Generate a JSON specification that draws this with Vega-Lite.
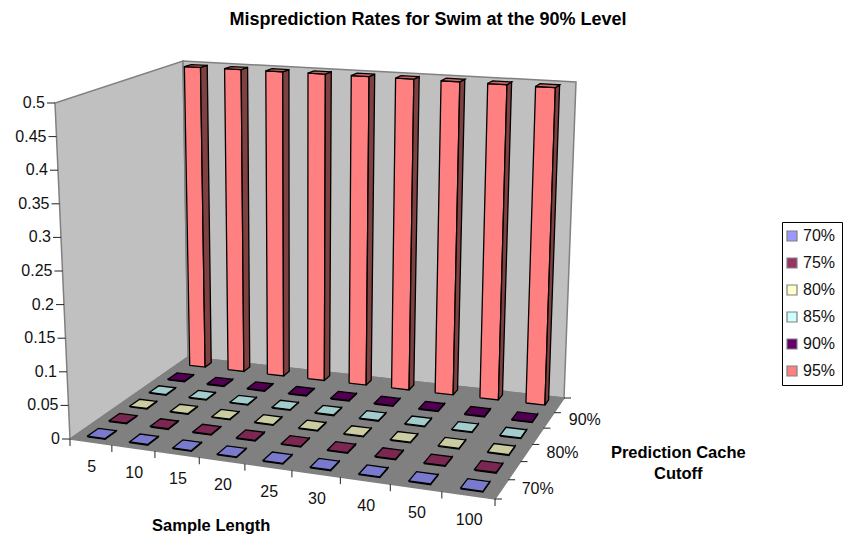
{"$schema":"https://vega.github.io/schema/vega-lite/v6.json","width":844,"height":538,"padding":0,"autosize":{"type":"fit","contains":"padding"},"background":"white",
"title":{"text":"Misprediction Rates for Swim at the 90% Level","font":"Liberation Sans","fontSize":18,"fontWeight":"bold","color":"black","anchor":"middle","offset":-29,"dx":6},
"config":{"view":{"stroke":null},"text":{"font":"Liberation Sans","color":"#111"}},
"datasets":{"main":[
{"sample":5,"cutoff":"70%","value":0.001},{"sample":10,"cutoff":"70%","value":0.001},{"sample":15,"cutoff":"70%","value":0.001},{"sample":20,"cutoff":"70%","value":0.001},{"sample":25,"cutoff":"70%","value":0.001},{"sample":30,"cutoff":"70%","value":0.001},{"sample":40,"cutoff":"70%","value":0.001},{"sample":50,"cutoff":"70%","value":0.001},{"sample":100,"cutoff":"70%","value":0.001},
{"sample":5,"cutoff":"75%","value":0.001},{"sample":10,"cutoff":"75%","value":0.001},{"sample":15,"cutoff":"75%","value":0.001},{"sample":20,"cutoff":"75%","value":0.001},{"sample":25,"cutoff":"75%","value":0.001},{"sample":30,"cutoff":"75%","value":0.001},{"sample":40,"cutoff":"75%","value":0.001},{"sample":50,"cutoff":"75%","value":0.001},{"sample":100,"cutoff":"75%","value":0.001},
{"sample":5,"cutoff":"80%","value":0.001},{"sample":10,"cutoff":"80%","value":0.001},{"sample":15,"cutoff":"80%","value":0.001},{"sample":20,"cutoff":"80%","value":0.001},{"sample":25,"cutoff":"80%","value":0.001},{"sample":30,"cutoff":"80%","value":0.001},{"sample":40,"cutoff":"80%","value":0.001},{"sample":50,"cutoff":"80%","value":0.001},{"sample":100,"cutoff":"80%","value":0.001},
{"sample":5,"cutoff":"85%","value":0.001},{"sample":10,"cutoff":"85%","value":0.001},{"sample":15,"cutoff":"85%","value":0.001},{"sample":20,"cutoff":"85%","value":0.001},{"sample":25,"cutoff":"85%","value":0.001},{"sample":30,"cutoff":"85%","value":0.001},{"sample":40,"cutoff":"85%","value":0.001},{"sample":50,"cutoff":"85%","value":0.001},{"sample":100,"cutoff":"85%","value":0.001},
{"sample":5,"cutoff":"90%","value":0.001},{"sample":10,"cutoff":"90%","value":0.001},{"sample":15,"cutoff":"90%","value":0.001},{"sample":20,"cutoff":"90%","value":0.001},{"sample":25,"cutoff":"90%","value":0.001},{"sample":30,"cutoff":"90%","value":0.001},{"sample":40,"cutoff":"90%","value":0.001},{"sample":50,"cutoff":"90%","value":0.001},{"sample":100,"cutoff":"90%","value":0.001},
{"sample":5,"cutoff":"95%","value":0.497},{"sample":10,"cutoff":"95%","value":0.497},{"sample":15,"cutoff":"95%","value":0.497},{"sample":20,"cutoff":"95%","value":0.497},{"sample":25,"cutoff":"95%","value":0.497},{"sample":30,"cutoff":"95%","value":0.497},{"sample":40,"cutoff":"95%","value":0.497},{"sample":50,"cutoff":"95%","value":0.497},{"sample":100,"cutoff":"95%","value":0.497}
]},
"encoding":{"x":{"field":"px","type":"quantitative","scale":{"domain":[0,844],"nice":false,"zero":false},"axis":null},"y":{"field":"py","type":"quantitative","scale":{"domain":[538,0],"nice":false,"zero":false},"axis":null}},
"layer":[
{"data":{"values":[{"part":"left"},{"part":"back"},{"part":"floor"}]},
"transform":[
{"calculate":"datum.part=='left'?[0,0,0,0,0]:[0,1,1,0,0]","as":"u"},
{"calculate":"datum.part=='left'?[0,1,1,0,0]:datum.part=='back'?[1,1,1,1,1]:[0,0,1,1,0]","as":"v"},
{"calculate":"datum.part=='floor'?[0,0,0,0,0]:[0,0,1,1,0]","as":"t"},
{"calculate":"[0,1,2,3,4]","as":"ord"},
{"flatten":["u","v","t","ord"]},
{"calculate":"datum.part=='floor'?'#808080':'#C0C0C0'","as":"col"},
{"calculate":"1-0.12584*datum.u+0.15341*datum.v","as":"w"},
{"calculate":"(70+362.71*datum.u+146.84*datum.v)/datum.w+datum.t*(-15+17*datum.u+10*datum.v)","as":"px"},
{"calculate":"(439-2.79*datum.u-27.23*datum.v)/datum.w+datum.t*(-336-20*datum.u+40*datum.v)","as":"py"}],
"mark":{"type":"line","stroke":"#808080","strokeWidth":1.5},
"encoding":{"order":{"field":"ord"},"detail":{"field":"part"},"fill":{"field":"col","type":"nominal","scale":null}}},
{"data":{"values":[{"label":"0","level":0},{"label":"0.05","level":0.05},{"label":"0.1","level":0.1},{"label":"0.15","level":0.15},{"label":"0.2","level":0.2},{"label":"0.25","level":0.25},{"label":"0.3","level":0.3},{"label":"0.35","level":0.35},{"label":"0.4","level":0.4},{"label":"0.45","level":0.45},{"label":"0.5","level":0.5}]},
"transform":[{"calculate":"70-15*datum.level/0.5","as":"px"},{"calculate":"439-336*datum.level/0.5","as":"py"},{"calculate":"datum.px-8","as":"px2"}],
"layer":[{"mark":{"type":"rule","stroke":"#222","strokeWidth":1},"encoding":{"x2":{"field":"px2"}}},
{"mark":{"type":"text","align":"right","baseline":"middle","dx":-10,"fontSize":16},"encoding":{"text":{"field":"label"}}}]},
{"data":{"values":[{"tick":0},{"tick":1},{"tick":2},{"tick":3},{"tick":4},{"tick":5},{"tick":6},{"tick":7},{"tick":8},{"tick":9}]},
"transform":[{"calculate":"datum.tick/9","as":"u"},{"calculate":"1-0.12584*datum.u","as":"w"},{"calculate":"(70+362.71*datum.u)/datum.w","as":"px"},{"calculate":"(439-2.79*datum.u)/datum.w","as":"py"},{"calculate":"datum.py+7","as":"py2"}],
"mark":{"type":"rule","stroke":"#222","strokeWidth":1},"encoding":{"y2":{"field":"py2"}}},
{"data":{"values":[{"tick":0},{"tick":1},{"tick":2},{"tick":3},{"tick":4},{"tick":5},{"tick":6}]},
"transform":[{"calculate":"datum.tick/6","as":"v"},{"calculate":"1-0.12584+0.15341*datum.v","as":"w"},{"calculate":"(432.71+146.84*datum.v)/datum.w","as":"px"},{"calculate":"(436.21-27.23*datum.v)/datum.w","as":"py"},{"calculate":"datum.px+7","as":"px2"}],
"mark":{"type":"rule","stroke":"#222","strokeWidth":1},"encoding":{"x2":{"field":"px2"}}},
{"data":{"name":"main"},
"transform":[
{"calculate":"(indexof([5,10,15,20,25,30,40,50,100],datum.sample)+0.5)/9","as":"uc"},
{"calculate":"indexof(['70%','75%','80%','85%','90%','95%'],datum.cutoff)","as":"vi"},
{"calculate":"[-1,1,1,-1,-1,1,1,1,1,1,-1,1,1,-1,-1]","as":"su"},
{"calculate":"[-1,-1,-1,-1,-1,-1,1,1,-1,-1,-1,-1,1,1,-1]","as":"sv"},
{"calculate":"[0,0,1,1,0,0,0,1,1,0,1,1,1,1,1]","as":"st"},
{"calculate":"[1,1,1,1,1,0.5,0.5,0.5,0.5,0.5,0.8,0.8,0.8,0.8,0.8]","as":"shade"},
{"calculate":"[0,1,2,3,4,0,1,2,3,4,0,1,2,3,4]","as":"ord"},
{"flatten":["su","sv","st","shade","ord"]},
{"calculate":"[[153,153,255],[153,51,102],[255,255,204],[204,255,255],[102,0,102],[255,128,128]][datum.vi]","as":"rgb"},
{"calculate":"'rgb('+floor(datum.rgb[0]*datum.shade)+','+floor(datum.rgb[1]*datum.shade)+','+floor(datum.rgb[2]*datum.shade)+')'","as":"col"},
{"calculate":"datum.uc+datum.su*(datum.vi==5?0.0225:0.0235)+(datum.vi==5?0.002:0)","as":"u"},
{"calculate":"(datum.vi+0.5)/6+datum.sv*(datum.vi==5?0.03:0.042)+(datum.vi==5?0.015:0)","as":"v"},
{"calculate":"datum.st*datum.value/0.5","as":"t"},
{"calculate":"1-0.12584*datum.u+0.15341*datum.v","as":"w"},
{"calculate":"(70+362.71*datum.u+146.84*datum.v)/datum.w+datum.t*(-15+17*datum.u+10*datum.v)","as":"px"},
{"calculate":"(439-2.79*datum.u-27.23*datum.v)/datum.w+datum.t*(-336-20*datum.u+40*datum.v)","as":"py"}],
"mark":{"type":"line","stroke":"black","strokeWidth":1.3,"strokeJoin":"miter"},
"encoding":{"order":{"field":"ord"},"detail":[{"field":"sample"},{"field":"cutoff"},{"field":"shade"}],"fill":{"field":"col","type":"nominal","scale":null}}},
{"data":{"name":"main"},
"transform":[{"filter":"datum.cutoff=='70%'"},{"calculate":"(indexof([5,10,15,20,25,30,40,50,100],datum.sample)+0.5)/9","as":"u"},{"calculate":"1-0.12584*datum.u","as":"w"},{"calculate":"(70+362.71*datum.u)/datum.w","as":"px"},{"calculate":"(439-2.79*datum.u)/datum.w","as":"py"}],
"mark":{"type":"text","align":"center","baseline":"middle","dy":25,"dx":1,"fontSize":16},"encoding":{"text":{"field":"sample"}}},
{"data":{"name":"main"},
"transform":[{"filter":"datum.sample==5&&(datum.cutoff=='70%'||datum.cutoff=='80%'||datum.cutoff=='90%')"},{"calculate":"(indexof(['70%','75%','80%','85%','90%','95%'],datum.cutoff)+0.5)/6","as":"v"},{"calculate":"1-0.12584+0.15341*datum.v","as":"w"},{"calculate":"(432.71+146.84*datum.v)/datum.w","as":"px"},{"calculate":"(436.21-27.23*datum.v)/datum.w","as":"py"}],
"mark":{"type":"text","align":"left","baseline":"middle","dx":20,"fontSize":16},"encoding":{"text":{"field":"cutoff"}}},
{"data":{"values":[{"label":"Sample Length","u":0.5,"v":0,"off":0},{"label":"Prediction Cache\nCutoff","u":1,"v":0.5,"off":1}]},
"transform":[{"calculate":"1-0.12584*datum.u+0.15341*datum.v","as":"w"},{"calculate":"(70+362.71*datum.u+146.84*datum.v)/datum.w+(datum.off?146:-57)","as":"px"},{"calculate":"(439-2.79*datum.u-27.23*datum.v)/datum.w+(datum.off?9:59)","as":"py"}],
"mark":{"type":"text","align":"center","baseline":"middle","fontSize":16.5,"fontWeight":"bold","lineBreak":"\n","lineHeight":20.5,"color":"black"},"encoding":{"text":{"field":"label"}}},
{"data":{"name":"main"},
"transform":[{"calculate":"(indexof([5,10,15,20,25,30,40,50,100],datum.sample)+0.5)/9","as":"u"},{"calculate":"(indexof(['70%','75%','80%','85%','90%','95%'],datum.cutoff)+0.5)/6","as":"v"},{"calculate":"1-0.12584*datum.u+0.15341*datum.v","as":"w"},{"calculate":"(70+362.71*datum.u+146.84*datum.v)/datum.w","as":"px"},{"calculate":"(439-2.79*datum.u-27.23*datum.v)/datum.w","as":"py"}],
"mark":{"type":"square","size":0,"stroke":"black","strokeWidth":1.2,"filled":true},
"encoding":{"fill":{"field":"cutoff","type":"nominal","scale":{"domain":["70%","75%","80%","85%","90%","95%"],"range":["#9999FF","#993366","#FFFFCC","#CCFFFF","#660066","#FF8080"]},
"legend":{"title":null,"orient":"none","legendX":782,"legendY":222,"strokeColor":"black","padding":6,"symbolType":"square","symbolSize":100,"symbolStrokeColor":"black","symbolStrokeWidth":1.2,"symbolOffset":-4,"labelFont":"Liberation Sans","labelFontSize":16,"labelColor":"#111","rowPadding":11,"labelOffset":3,"cornerRadius":0}}}}
]}
